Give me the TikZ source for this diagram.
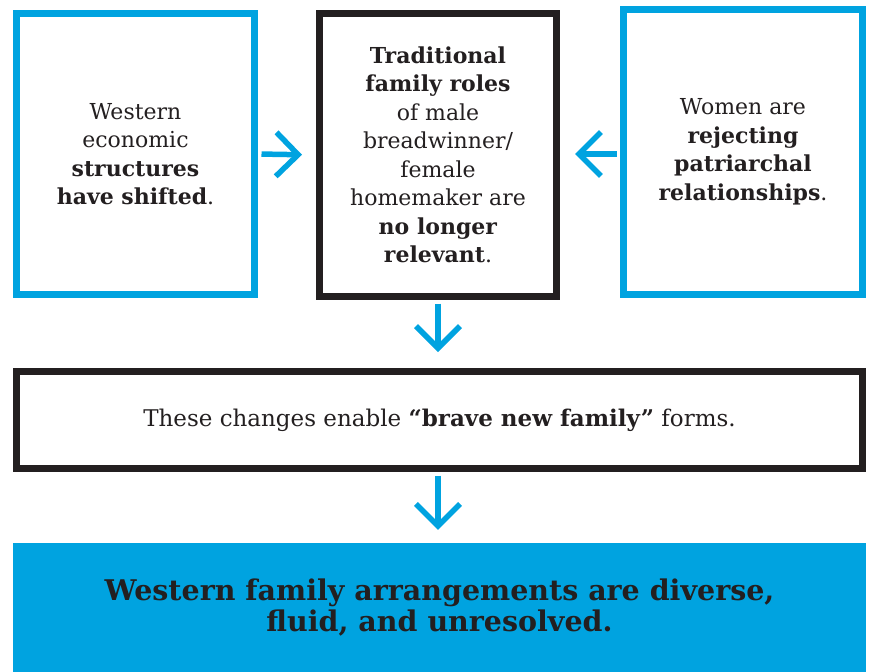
\documentclass[tikz,border=0pt]{standalone}
\usepackage{fontspec}
\setmainfont{DejaVu Serif}
\usetikzlibrary{arrows.meta}
\definecolor{cblue}{HTML}{00A3E0}
\definecolor{ink}{HTML}{231F20}
\tikzset{
  x=1pt,y=-1pt,
  bbox/.style={draw=#1,line width=7pt,inner sep=0pt,align=center,font=\fontsize{22}{28.5}\selectfont,text=ink},
  flow/.style={draw=cblue,line width=5.5pt,-{Straight Barb[length=22pt,width=44pt,line width=5.5pt]}}
}
\begin{document}
\begin{tikzpicture}
\useasboundingbox (0,0) rectangle (871,672);
\node[bbox=cblue,minimum width=238pt,minimum height=281pt] (left) at (135.5,154) {Western\\economic\\\textbf{structures}\\\textbf{have shifted}.};
\node[bbox=ink,minimum width=237pt,minimum height=283pt] (mid) at (438,155) {\textbf{Traditional}\\\textbf{family roles}\\of male\\breadwinner/\\female\\homemaker are\\\textbf{no longer}\\\textbf{relevant}.};
\node[bbox=cblue,minimum width=239pt,minimum height=285pt] (right) at (743,152) {Women are\\\textbf{rejecting}\\\textbf{patriarchal}\\\textbf{relationships}.};
\node[bbox=ink,minimum width=846pt,minimum height=97pt,font=\fontsize{23}{28.5}\selectfont] (wide) at (439.5,420) {These changes enable \textbf{``brave new family''} forms.};
\node[fill=cblue,minimum width=853pt,minimum height=129pt,inner sep=0pt,align=center,text=ink,font=\bfseries\fontsize{28.5}{31}\selectfont] (res) at (439.5,607.5) {Western family arrangements are diverse,\\fluid, and unresolved.};
\draw[flow,shorten <=3.5pt,shorten >=14pt] (left.east) -- (mid.west);
\draw[flow,shorten <=3.5pt,shorten >=15pt] (right.west |- left.east) -- (mid.east |- left.east);
\draw[flow,shorten <=3.5pt,shorten >=16pt] (mid.south) -- (mid.south |- wide.north);
\draw[flow,shorten <=3.5pt,shorten >=13pt] (wide.south -| mid.south) -- (res.north -| mid.south);
\end{tikzpicture}
\end{document}
